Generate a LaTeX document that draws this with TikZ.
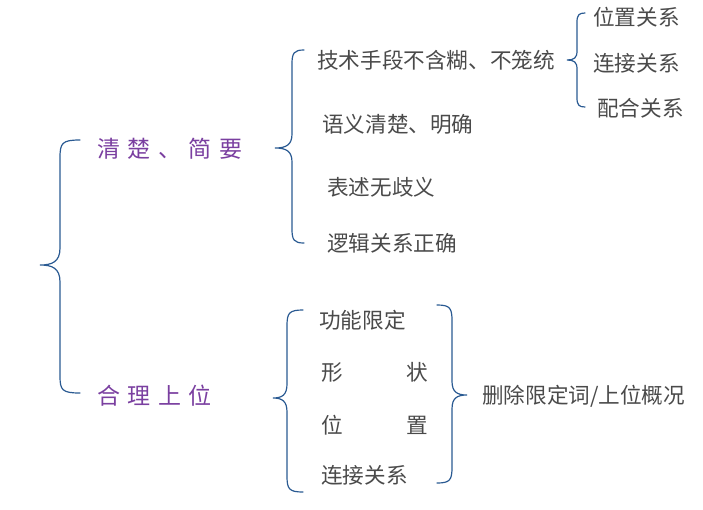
\documentclass[tikz,border=0pt]{standalone}
\usepackage{fontspec}
\newfontfamily\cjk{Noto Sans CJK SC}
\definecolor{bracecol}{HTML}{2A5A92}
\definecolor{txtcol}{HTML}{4A4A4A}
\definecolor{purp}{HTML}{7A3FA0}
\begin{document}
\begin{tikzpicture}[x=1pt,y=-1pt,
  bracestyle/.style={draw=bracecol,line width=1.2pt,line cap=round},
  gtxt/.style={font=\cjk\fontsize{21.6}{24}\selectfont,text=txtcol,inner sep=0pt,anchor=base west},
  ptxt/.style={font=\cjk\fontsize{23}{26}\selectfont,text=purp,inner sep=0pt,anchor=base west}]
\useasboundingbox (0,0) rectangle (703,509);
% left big brace
\draw[bracestyle] (80,140) .. controls (62,140) and (60,143) .. (60,158) -- (60,248)
  .. controls (60,262) and (52,265) .. (40,265) .. controls (52,265) and (60,268) .. (60,282)
  -- (60,376) .. controls (60,390) and (62,393) .. (80,393);
% level-1 labels
\node[ptxt] (a) at (97,157) {清\hspace{7.5pt}楚\hspace{7.5pt}、\hspace{7.5pt}简\hspace{7.5pt}要};
\node[ptxt] (b) at (97,404) {合\hspace{7.5pt}理\hspace{7.5pt}上\hspace{7.5pt}位};
% brace for a
\draw[bracestyle] (304,50) .. controls (294,50) and (292,53) .. (292,64) -- (292,134)
  .. controls (292,145) and (286,148) .. (275,148) .. controls (286,148) and (292,151) .. (292,162)
  -- (292,229) .. controls (292,240) and (294,243) .. (304,243);
\node[gtxt] (a1) at (317,68) {技术手段不含糊、不笼统};
\node[gtxt] (a2) at (322,132) {语义清楚、明确};
\node[gtxt] (a3) at (327,195) {表述无歧义};
\node[gtxt] (a4) at (327,251) {逻辑关系正确};
% brace for a1
\draw[bracestyle] (585,13) .. controls (579,13) and (577,15) .. (577,22) -- (577,51)
  .. controls (577,58) and (574,60) .. (567,60) .. controls (574,60) and (577,62) .. (577,69)
  -- (577,98) .. controls (577,105) and (579,107) .. (585,107);
\node[gtxt] (c1) at (593,25) {位置关系};
\node[gtxt] (c2) at (593,71) {连接关系};
\node[gtxt] (c3) at (597,116) {配合关系};
% brace left of b children
\draw[bracestyle] (303,310) .. controls (289,310) and (287,313) .. (287,326) -- (287,384)
  .. controls (287,395) and (282,398) .. (273,398) .. controls (282,398) and (287,401) .. (287,412)
  -- (287,476) .. controls (287,489) and (289,492) .. (303,492);
\node[gtxt] (b1) at (319,328) {功能限定};
\node[gtxt] (b2) at (321,380) {形\hspace{64pt}状};
\node[gtxt] (b3) at (321,433) {位\hspace{64pt}置};
\node[gtxt] (b4) at (321,483) {连接关系};
% right brace
\draw[bracestyle] (437,305) .. controls (450,305) and (452,308) .. (452,321) -- (452,381)
  .. controls (452,392) and (457,395) .. (467,395) .. controls (457,395) and (452,398) .. (452,409)
  -- (452,467) .. controls (452,480) and (450,483) .. (437,483);
\node[gtxt] (d) at (482,403) {删除限定词/上位概况};
\end{tikzpicture}
\end{document}
